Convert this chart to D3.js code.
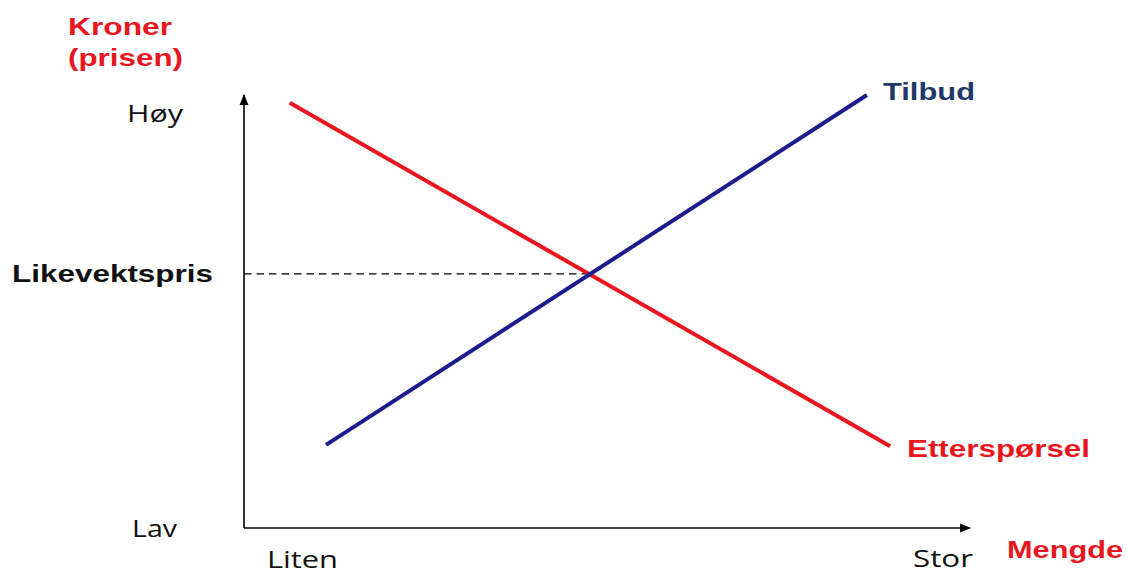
<!DOCTYPE html>
<html>
<head>
<meta charset="utf-8">
<script src="https://cdn.jsdelivr.net/npm/d3@7"></script>
<style>
  body { margin: 0; background: #fff; }
  svg { display: block; }
</style>
</head>
<body>
<svg width="1127" height="574"></svg>
<script>
// data, in axis units 0..100 (quantity, price)
var demand = [[6.3, 98.2], [89.0, 18.9]];
var supply = [[11.3, 19.2], [85.8, 100]];
var equilibrium = [47.7, 58.7];

var red = "#e8161f";
var navy = "#1c1c8c";

var svg = d3.select('svg');

var x = d3.scaleLinear().domain([0, 100]).range([244, 970]);
var y = d3.scaleLinear().domain([0, 100]).range([528, 95]);

var defs = svg.append('defs');
defs.append('marker')
    .attr('id', 'arrow')
    .attr('viewBox', '0 0 10 10')
    .attr('refX', 9).attr('refY', 5)
    .attr('markerWidth', 11).attr('markerHeight', 11)
    .attr('markerUnits', 'userSpaceOnUse')
    .attr('orient', 'auto')
    .append('path')
    .attr('d', 'M0,1 L10,5 L0,9 Z')
    .style('fill', '#000');

// axes
svg.append('line')
    .attr('x1', x(0)).attr('y1', y(0))
    .attr('x2', x(0)).attr('y2', y(100))
    .style('stroke', '#000').style('stroke-width', 1.6)
    .attr('marker-end', 'url(#arrow)');
svg.append('line')
    .attr('x1', x(0)).attr('y1', y(0))
    .attr('x2', x(100)).attr('y2', y(0))
    .style('stroke', '#000').style('stroke-width', 1.6)
    .attr('marker-end', 'url(#arrow)');

// dashed equilibrium line
svg.append('line')
    .attr('x1', x(0)).attr('y1', y(equilibrium[1]))
    .attr('x2', x(equilibrium[0])).attr('y2', y(equilibrium[1]))
    .style('stroke', '#000').style('stroke-width', 1.3)
    .style('stroke-dasharray', '7.5,5');

var line = d3.line().x(function(d) { return x(d[0]); }).y(function(d) { return y(d[1]); });

svg.append('path').datum(demand)
    .attr('d', line)
    .style('fill', 'none').style('stroke', red).style('stroke-width', 4);
svg.append('path').datum(supply)
    .attr('d', line)
    .style('fill', 'none').style('stroke', navy).style('stroke-width', 4);

// labels: [text, x, baseline, width, bold, color, size]
var labels = [
    ['Kroner', 68, 35, 104, true, red, 24],
    ['(prisen)', 68, 66, 115, true, red, 24],
    ['Høy', 127, 122, 56, false, '#111', 24],
    ['Likevektspris', 12, 282, 201, true, '#111', 24],
    ['Lav', 132, 537, 45, false, '#111', 24],
    ['Liten', 267, 568, 71, false, '#111', 24],
    ['Stor', 913, 567, 60, false, '#111', 24],
    ['Mengde', 1007, 558, 116, true, red, 24],
    ['Tilbud', 883, 100, 92, true, '#1f3866', 24],
    ['Etterspørsel', 907, 457, 183, true, red, 24]
];

svg.selectAll('.label')
    .data(labels)
    .enter()
    .append('text')
    .attr('class', 'label')
    .attr('x', function(d) { return d[1]; })
    .attr('y', function(d) { return d[2]; })
    .attr('textLength', function(d) { return d[3]; })
    .attr('lengthAdjust', 'spacingAndGlyphs')
    .style('font-family', function(d) { return d[4] ? '"Liberation Sans", Arial, sans-serif' : '"Open Sans", sans-serif'; })
    .style('font-weight', function(d) { return d[4] ? 'bold' : 'normal'; })
    .style('font-size', function(d) { return d[6] + 'px'; })
    .style('fill', function(d) { return d[5]; })
    .text(function(d) { return d[0]; });
</script>
</body>
</html>
